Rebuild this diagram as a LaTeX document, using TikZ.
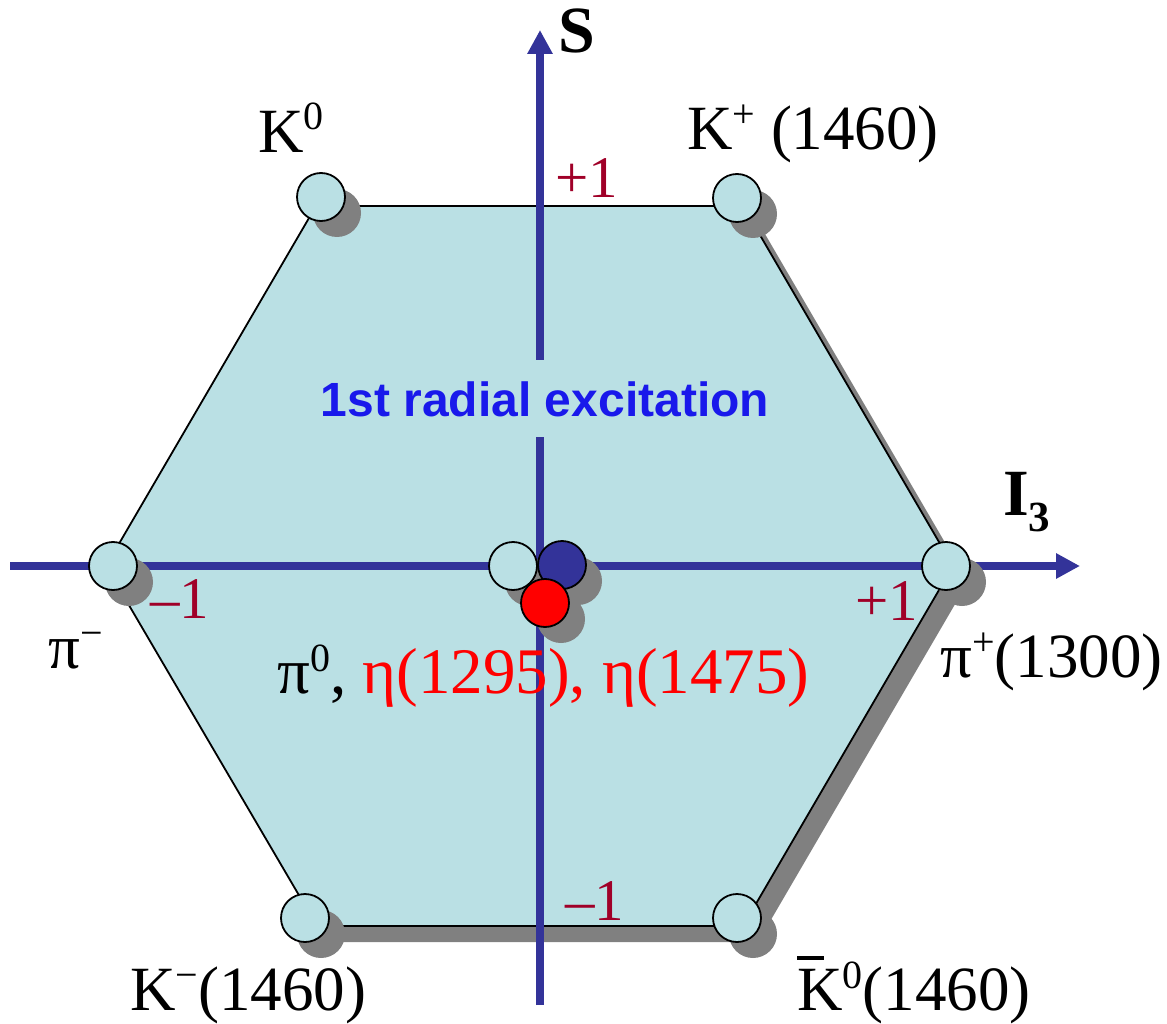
\documentclass[tikz,border=0pt]{standalone}
\usepackage{fontspec}
\setmainfont{Liberation Serif}
\newfontfamily\labelsans{Liberation Sans}
\usetikzlibrary{arrows.meta}
\definecolor{hexfill}{RGB}{186,224,228}
\definecolor{axisblue}{RGB}{51,51,153}
\definecolor{shadowgrey}{RGB}{128,128,128}
\definecolor{tickred}{RGB}{160,0,40}
\definecolor{titleblue}{RGB}{25,25,235}
\newcommand\upidx[2]{\raisebox{#1}{\fontsize{40}{40}\selectfont #2}}
\newcommand\kbarglyph{\rlap{\rule[0.8em]{0.43em}{0.06em}}K}
\newcommand\particle[4]{%
  \node[pshadow] (#1s) at (#2+16,#3+16) {};
  \node[particle, fill=#4] (#1) at (#2,#3) {};}
\begin{document}
\begin{tikzpicture}[x=1pt,y=-1pt,
  lbl/.style={inner sep=0pt, anchor=base west, font=\fontsize{63}{70}\selectfont},
  ticklbl/.style={lbl, text=tickred, font=\fontsize{59}{64}\selectfont},
  axislbl/.style={lbl, font=\fontsize{66}{70}\selectfont\bfseries},
  particle/.style={circle, minimum size=48pt, inner sep=0pt, draw=black, line width=1.8pt},
  pshadow/.style={circle, minimum size=48pt, inner sep=0pt, fill=shadowgrey},
  axisline/.style={draw=axisblue, line width=8pt, -{Triangle[length=24pt,width=24pt]}},
  hexedge/.style={draw=black, line width=1.8pt, fill=hexfill, line join=miter},
  sh/.style={xshift=15pt, yshift=-16pt}]
\useasboundingbox (0,0) rectangle (1167,1024);
% hexagon vertices
\coordinate (h1) at (316,206);
\coordinate (h2) at (743,206);
\coordinate (h3) at (953,566);
\coordinate (h4) at (743,926);
\coordinate (h5) at (317,926);
\coordinate (h6) at (106,566);
% hexagon shadow and body
\fill[shadowgrey] ([sh]h1) -- ([sh]h2) -- ([sh]h3) -- ([sh]h4) -- ([sh]h5) -- ([sh]h6) -- cycle;
\path[hexedge] (h1) -- (h2) -- (h3) -- (h4) -- (h5) -- (h6) -- cycle;
% axes
\coordinate (xstart) at (10,566);
\coordinate (xend) at (1080,566);
\coordinate (ystart) at (540,1005);
\coordinate (yend) at (540,30);
\draw[axisline] (xstart) -- (xend);
\draw[axisline] (ystart) -- (yend);
% title (covers axis)
\node[fill=hexfill, text=titleblue, font=\labelsans\bfseries\fontsize{48}{52}\selectfont,
  inner xsep=4pt, inner ysep=21pt, anchor=base] (title) at (545,416) {1st radial excitation};
% particles
\particle{k0}{321}{197}{hexfill}
\particle{kplus}{737}{198}{hexfill}
\particle{piplus}{946}{566}{hexfill}
\particle{kzerobar}{737}{918}{hexfill}
\particle{kminus}{305}{918}{hexfill}
\particle{piminus}{113}{566}{hexfill}
\particle{pizero}{513}{566}{hexfill}
\particle{etaa}{562}{565}{axisblue}
\particle{etab}{545}{603}{red}
% axis labels
\node[axislbl] (slab) at (558,53) {S};
\node[axislbl] (ilab) at (1003,515) {I\raisebox{-16pt}{\fontsize{43}{43}\selectfont 3}};
% tick labels
\node[ticklbl] (tt) at (555,198) {+1};
\node[ticklbl] (tl) at (150,618) {–1};
\node[ticklbl] (tr) at (855,620) {+1};
\node[ticklbl] (tb) at (565,920) {–1};
% particle labels
\node[lbl] (k0lab) at (258,153) {K\upidx{23pt}{0}};
\node[lbl] (kpluslab) at (687,150) {K\upidx{22pt}{+} (1460)};
\node[lbl] (piminuslab) at (48,668) {π\upidx{22pt}{−}};
\node[lbl, font=\fontsize{65}{70}\selectfont] (pizerolab) at (277,693) {π\upidx{22pt}{0}, \textcolor{red}{η(1295), η(1475)}};
\node[lbl] (pipluslab) at (940,677) {π\upidx{22pt}{+}(1300)};
\node[lbl] (kminuslab) at (130,1010) {K\upidx{22pt}{−}(1460)};
\node[lbl] (kzerobarlab) at (797,1010) {\kbarglyph\upidx{22pt}{0}(1460)};
\end{tikzpicture}
\end{document}
